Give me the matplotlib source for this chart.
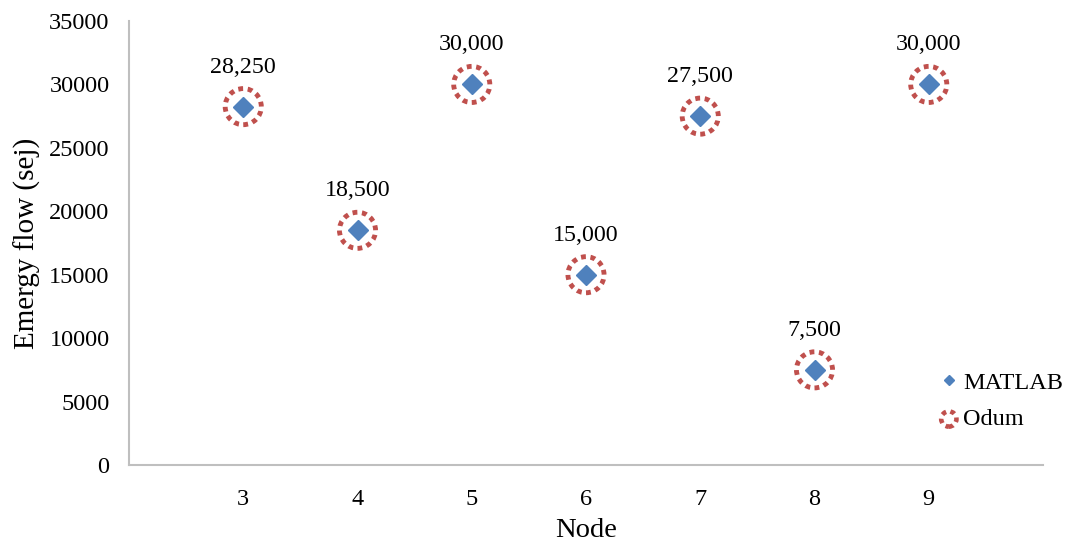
import matplotlib
matplotlib.use("Agg")
import matplotlib.pyplot as plt

nodes = [3, 4, 5, 6, 7, 8, 9]
matlab = [28250, 18500, 30000, 15000, 27500, 7500, 30000]
odum = [28250, 18500, 30000, 15000, 27500, 7500, 30000]
labels = ["28,250", "18,500", "30,000", "15,000", "27,500", "7,500", "30,000"]
yticks = [0, 5000, 10000, 15000, 20000, 25000, 30000, 35000]

plt.rcParams['font.family'] = ['Liberation Serif', 'DejaVu Serif']

fig = plt.figure(figsize=(10.67, 5.43), dpi=100)
ax = fig.add_axes([129/1067, 1-465/543, (1043-129)/1067, (465-21)/543])

ax.scatter(nodes, odum, s=26**2, facecolors='none', edgecolors='#C0504D',
           linewidths=3.5, linestyles=[(0, (1, 0.95))], label='Odum', zorder=2)
ax.plot(nodes, matlab, linestyle='none', marker='D', markersize=10,
        color='#4F81BD', label='MATLAB', zorder=3)

for x, y, t in zip(nodes, matlab, labels):
    ax.annotate(t, (x, y), xytext=(0, 28.5), textcoords='offset points',
                ha='center', va='center', fontsize=17.3, color='black')

ax.set_xlim(2, 10)
ax.set_ylim(0, 35000)
ax.set_xticks(nodes)
ax.set_yticks(yticks)
ax.tick_params(axis='both', length=0, labelsize=17.5)
ax.tick_params(axis='y', pad=14)
ax.tick_params(axis='x', pad=17)
for s in ['top', 'right']:
    ax.spines[s].set_visible(False)
for s in ['left', 'bottom']:
    ax.spines[s].set_color('#BFBFBF')
    ax.spines[s].set_linewidth(1.5)

ax.set_ylabel('Emergy flow (sej)', fontsize=21, labelpad=6)
ax.set_xlabel('Node', fontsize=20.5, labelpad=6)

h, l = ax.get_legend_handles_labels()
order = [l.index('MATLAB'), l.index('Odum')]
leg = ax.legend([h[i] for i in order], [l[i] for i in order], loc='upper left',
                bbox_to_anchor=(0.885, 0.21), frameon=False, fontsize=17.5,
                handletextpad=0.15, handlelength=0.9, labelspacing=0.6,
                borderaxespad=0, borderpad=0, markerscale=0.55)
leg.legend_handles[1].set_sizes([11**2])
leg.legend_handles[1].set_linewidths([3.3])

fig.savefig('out.png', dpi=100)
